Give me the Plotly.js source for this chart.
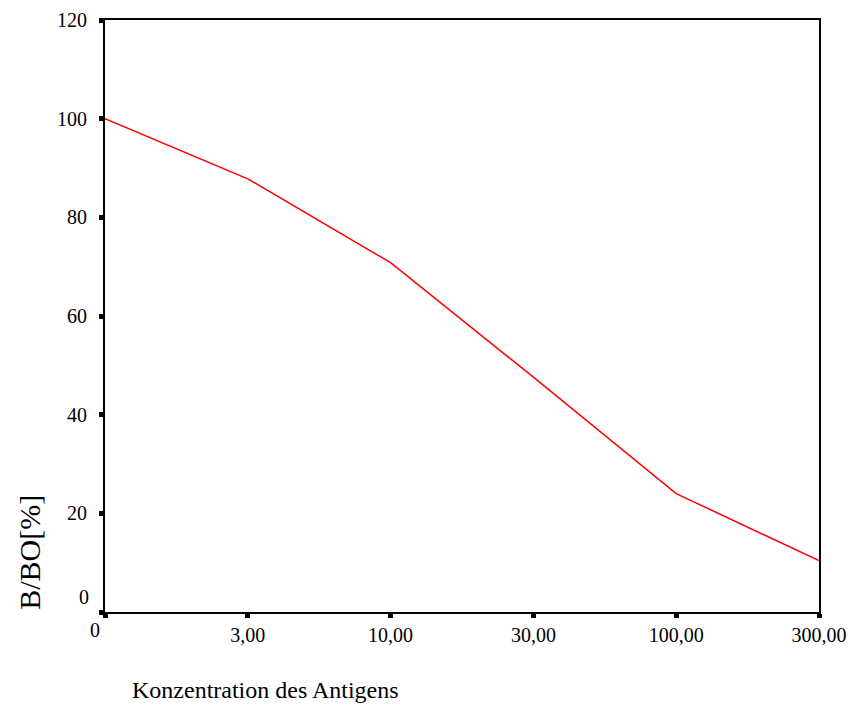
<!DOCTYPE html>
<html>
<head>
<meta charset="utf-8">
<script src="https://cdn.plot.ly/plotly-3.0.1.min.js"></script>
<style>html,body{margin:0;padding:0;background:#fff;}#chart{width:848px;height:719px;}</style>
</head>
<body>
<div id="chart"></div>
<script>
const categories = ["0", "3,00", "10,00", "30,00", "100,00", "300,00"];
const values = [100, 87.8, 70.8, 47.6, 24.0, 10.4];
const yTicks = [0, 20, 40, 60, 80, 100, 120];
const xTitle = "Konzentration des Antigens";
const yTitle = "B/BO[%]";

const font = "Liberation Serif, Times New Roman, serif";
const tickSize = 20;

const trace = {
  x: categories,
  y: values,
  type: "scatter",
  mode: "lines",
  line: {color: "#ff0000", width: 1.5},
  hoverinfo: "none"
};

// the "0" labels are drawn as annotations, offset like in the reference
const xTickText = categories.map((c, i) => i === 0 ? "" : c);
const yTickText = yTicks.map(v => v === 0 ? "" : String(v));

const layout = {
  width: 848,
  height: 719,
  margin: {l: 105, r: 29, t: 20, b: 106.5},
  paper_bgcolor: "#fff",
  plot_bgcolor: "#fff",
  showlegend: false,
  font: {family: font, color: "#000", size: tickSize},
  xaxis: {
    type: "category",
    range: [0, categories.length - 1],
    tickvals: categories,
    ticktext: xTickText,
    showgrid: false,
    zeroline: false,
    showline: true,
    linecolor: "#000",
    linewidth: 2,
    mirror: true,
    ticks: "outside",
    ticklen: 4,
    tickwidth: 5,
    tickcolor: "#000",
    ticklabelstandoff: 0,
    tickfont: {family: font, size: tickSize, color: "#000"},
    fixedrange: true
  },
  yaxis: {
    range: [0, 120],
    tickvals: yTicks,
    ticktext: yTickText,
    showgrid: false,
    zeroline: false,
    showline: true,
    linecolor: "#000",
    linewidth: 2,
    mirror: true,
    ticks: "outside",
    ticklen: 4,
    tickwidth: 5,
    tickcolor: "#000",
    ticklabelstandoff: 8,
    tickfont: {family: font, size: tickSize, color: "#000"},
    fixedrange: true
  },
  annotations: [
    {
      text: categories[0], xref: "x", yref: "paper",
      x: 0, y: 0, xanchor: "center", yanchor: "middle",
      xshift: -10, yshift: -18,
      showarrow: false, font: {family: font, size: tickSize, color: "#000"}
    },
    {
      text: String(yTicks[0]), xref: "paper", yref: "y",
      x: 0, y: 0, xanchor: "center", yanchor: "middle",
      xshift: -21, yshift: 15,
      showarrow: false, font: {family: font, size: tickSize, color: "#000"}
    },
    {
      text: xTitle, xref: "paper", yref: "paper",
      x: 0.035, y: -0.131, xanchor: "left", yanchor: "middle",
      showarrow: false, font: {family: font, size: 24, color: "#000"}
    },
    {
      text: yTitle, xref: "paper", yref: "paper",
      x: -0.105, y: 0.1, xanchor: "center", yanchor: "middle",
      textangle: -90,
      showarrow: false, font: {family: font, size: 30, color: "#000"}
    }
  ]
};

Plotly.newPlot("chart", [trace], layout, {displayModeBar: false, staticPlot: true});
</script>
</body>
</html>
